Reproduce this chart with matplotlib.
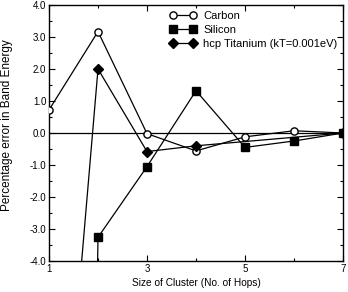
import numpy as np
import matplotlib
matplotlib.use("Agg")
import matplotlib.pyplot as plt
from matplotlib.ticker import MultipleLocator, FixedLocator

plt.rcParams['font.family'] = ['Liberation Sans', 'DejaVu Sans']

carbon_x = [1, 2, 3, 4, 5, 6, 7]
carbon_y = [0.72, 3.17, -0.02, -0.56, -0.12, 0.07, 0.0]
silicon_x = [1, 2, 3, 4, 5, 6, 7]
silicon_y = [-100.0, -3.26, -1.05, 1.32, -0.45, -0.25, 0.0]
titanium_x = [1, 2, 3, 4, 7]
titanium_y = [-16.0, 2.0, -0.58, -0.4, 0.0]
xticks = [1, 3, 5, 7]
yticks = [-4.0, -3.0, -2.0, -1.0, 0.0, 1.0, 2.0, 3.0, 4.0]

fig = plt.figure(figsize=(3.48, 2.92), dpi=100)
ax = fig.add_axes([49/348, 1-261/292, (343-49)/348, (261-5)/292])

ax.axhline(0, color='black', lw=0.9, zorder=1)
ax.plot(carbon_x, carbon_y, '-o', color='black', mfc='white', mec='black', ms=5.2, mew=1.0, lw=0.9, label='Carbon', zorder=3)
ax.plot(silicon_x, silicon_y, '-s', color='black', ms=5.5, lw=0.9, label='Silicon', zorder=3)
ax.plot(titanium_x, titanium_y, '-D', color='black', ms=4.8, lw=0.9, label='hcp Titanium (kT=0.001eV)', zorder=3)

ax.set_xlim(1, 7)
ax.set_ylim(-4, 4)
ax.xaxis.set_major_locator(FixedLocator(xticks))
ax.xaxis.set_minor_locator(MultipleLocator(1))
ax.yaxis.set_major_locator(FixedLocator(yticks))
ax.yaxis.set_minor_locator(MultipleLocator(0.5))
ax.set_xticklabels([str(v) for v in xticks])
ax.set_yticklabels(['%.1f' % v for v in yticks])
ax.tick_params(which='both', direction='in', top=True, right=True, labelsize=7, width=0.8, pad=2)
ax.tick_params(which='major', length=4)
ax.tick_params(which='minor', length=2)
for s in ax.spines.values():
    s.set_linewidth(1.0)

ax.set_xlabel('Size of Cluster (No. of Hops)', fontsize=7.3, labelpad=3)
ax.set_ylabel('Percentage error in Band Energy', fontsize=8.5)
ax.yaxis.set_label_coords(-0.122, 0.53)

ax.legend(loc='upper right', frameon=False, fontsize=8, numpoints=2, handlelength=2.4,
          handletextpad=0.6, labelspacing=0.38, borderpad=0.2, borderaxespad=0.3,
          bbox_to_anchor=(1.0, 1.0))

fig.savefig('out.png', dpi=100)
